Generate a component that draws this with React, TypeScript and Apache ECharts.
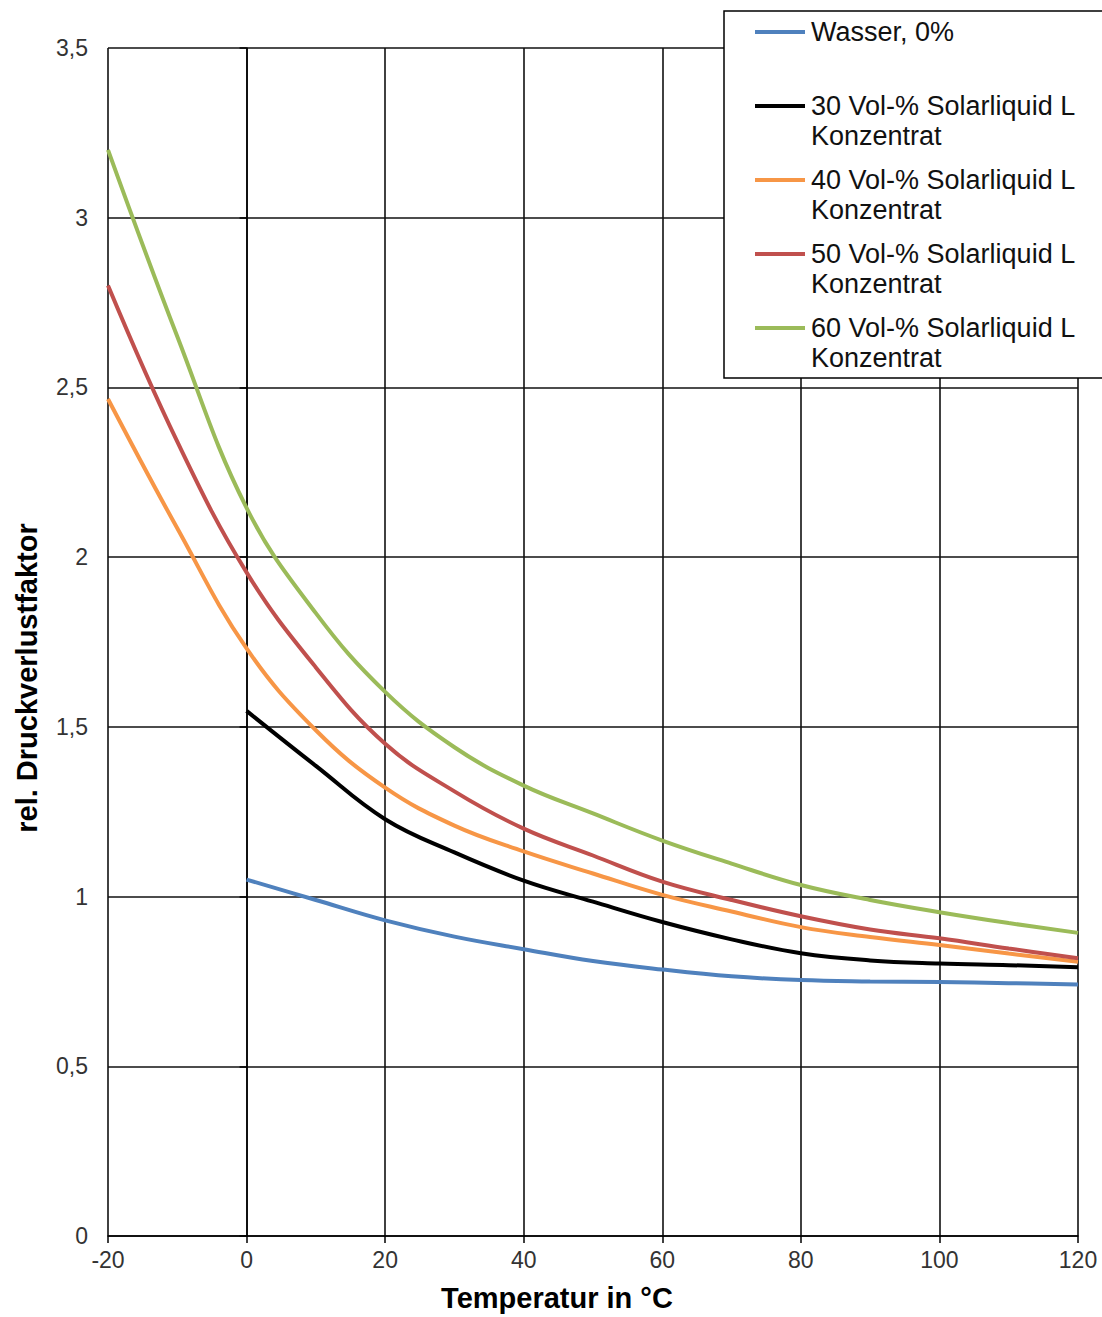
import React, { useEffect, useRef } from "react";
import * as echarts from "echarts";

const temps = [-20, -10, 0, 10, 20, 30, 40, 50, 60, 70, 80, 90, 100, 110, 120];

const wasser = [null, null, 1.05, 0.99, 0.93, 0.882, 0.845, 0.81, 0.785, 0.765, 0.754, 0.75, 0.748, 0.745, 0.741];
const vol30 = [null, null, 1.547, 1.385, 1.228, 1.13, 1.047, 0.985, 0.925, 0.874, 0.833, 0.812, 0.803, 0.798, 0.792];
const vol40 = [2.466, 2.085, 1.731, 1.49, 1.321, 1.209, 1.133, 1.068, 1.005, 0.956, 0.91, 0.881, 0.857, 0.832, 0.808];
const vol50 = [2.8, 2.34, 1.955, 1.675, 1.45, 1.31, 1.2, 1.121, 1.044, 0.99, 0.942, 0.903, 0.877, 0.847, 0.818];
const vol60 = [3.2, 2.65, 2.145, 1.835, 1.603, 1.44, 1.327, 1.245, 1.165, 1.097, 1.034, 0.99, 0.954, 0.922, 0.893];

const seriesNames = [
  "Wasser, 0%",
  "30 Vol-% Solarliquid L\nKonzentrat",
  "40 Vol-% Solarliquid L\nKonzentrat",
  "50 Vol-% Solarliquid L\nKonzentrat",
  "60 Vol-% Solarliquid L\nKonzentrat",
];
const seriesValues = [wasser, vol30, vol40, vol50, vol60];
const seriesColors = ["#4F81BD", "#000000", "#F79646", "#C0504D", "#9BBB59"];

const xTitle = "Temperatur in °C";
const yTitle = "rel. Druckverlustfaktor";

const FONT = "'Liberation Sans', Arial, sans-serif";

export default function App() {
  const ref = useRef<HTMLDivElement>(null);

  useEffect(() => {
    if (!ref.current) return;
    const chart = echarts.init(ref.current, undefined, { renderer: "svg" });

    const series = seriesValues.map((vals, i) => ({
      type: "line",
      name: seriesNames[i],
      data: temps
        .map((t, j) => (vals[j] === null ? null : [t, vals[j]]))
        .filter((p) => p !== null),
      smooth: 0.4,
      showSymbol: false,
      symbol: "none",
      lineStyle: { color: seriesColors[i], width: 4 },
      itemStyle: { color: seriesColors[i] },
      z: 3,
    }));

    const legendTop = 11;
    const rowStart = 32;
    const rowStep = 74;
    const legendGraphics: any[] = [
      {
        type: "rect",
        shape: { x: 724, y: legendTop, width: 420, height: 367 },
        style: { fill: "#ffffff", stroke: "#000000", lineWidth: 1.5 },
        z: 10,
      },
    ];
    seriesNames.forEach((name, i) => {
      const y = rowStart + i * rowStep;
      legendGraphics.push({
        type: "line",
        shape: { x1: 755, y1: y, x2: 805, y2: y },
        style: { stroke: seriesColors[i], lineWidth: 4 },
        z: 11,
      });
      name.split("\n").forEach((line, k) => {
        legendGraphics.push({
          type: "text",
          x: 811,
          y: y + k * 30,
          style: {
            text: line,
            fill: "#111",
            font: `27px ${FONT}`,
            textAlign: "left",
            textVerticalAlign: "middle",
          },
          z: 11,
        });
      });
    });

    const option: any = {
      animation: false,
      backgroundColor: "#ffffff",
      grid: { left: 108, top: 48, width: 970, height: 1188, containLabel: false },
      xAxis: {
        type: "value",
        min: -20,
        max: 120,
        interval: 20,
        axisLine: { show: true, onZero: false, lineStyle: { color: "#000", width: 1.5 } },
        axisTick: { show: true, length: 7, lineStyle: { color: "#000", width: 1.5 } },
        axisLabel: {
          color: "#333",
          fontSize: 23,
          fontFamily: FONT,
          margin: 12,
        },
        splitLine: { show: true, lineStyle: { color: "#111", width: 1.6 } },
      },
      yAxis: {
        type: "value",
        min: 0,
        max: 3.5,
        interval: 0.5,
        axisLine: { show: true, lineStyle: { color: "#000", width: 1.5 } },
        axisTick: { show: true, length: 7, lineStyle: { color: "#000", width: 1.5 } },
        axisLabel: {
          color: "#333",
          fontSize: 23,
          fontFamily: FONT,
          margin: 20,
          formatter: (v: number) => String(v).replace(".", ","),
        },
        splitLine: { show: true, lineStyle: { color: "#111", width: 1.6 } },
      },
      series,
      graphic: [
        {
          type: "text",
          x: 557,
          y: 1298,
          style: {
            text: xTitle,
            fill: "#000",
            font: `bold 29px ${FONT}`,
            textAlign: "center",
            textVerticalAlign: "middle",
          },
        },
        {
          type: "text",
          x: 27,
          y: 678,
          rotation: Math.PI / 2,
          style: {
            text: yTitle,
            fill: "#000",
            font: `bold 29px ${FONT}`,
            textAlign: "center",
            textVerticalAlign: "middle",
          },
        },
        ...legendGraphics,
      ],
    };

    chart.setOption(option);
    return () => chart.dispose();
  }, []);

  return (
    <div
      ref={ref}
      style={{ position: "absolute", left: 0, top: 0, width: 1102, height: 1317, background: "#fff" }}
    />
  );
}
